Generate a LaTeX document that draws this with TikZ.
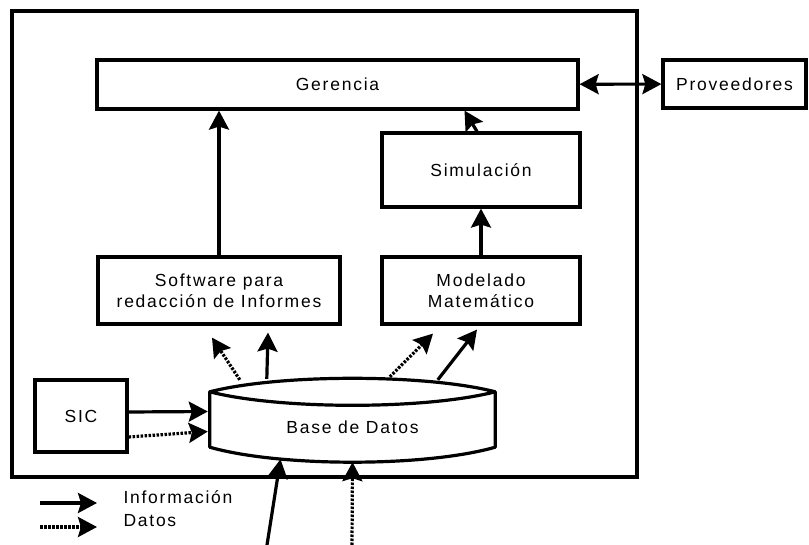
\documentclass[tikz,border=0pt]{standalone}
\usepackage{fontspec}
\setmainfont{Liberation Sans}[LetterSpace=10]
\usetikzlibrary{arrows.meta}

\tikzset{
	bigtip/.tip={Stealth[length=19pt,width=20pt,inset=3pt]},
	box/.style={draw, line width=3.2pt, rectangle, align=center, inner sep=0pt},
	info/.style={line width=3.2pt, -bigtip},
	datos/.style={info, dash pattern=on 2.5pt off 1.5pt},
}

\begin{document}
\begin{tikzpicture}[x=1pt, y=-1pt, font=\fontsize{17.5}{21}\selectfont]
		\useasboundingbox (0,0) rectangle (809,545);
		\draw[line width=3.5pt] (12,11) rectangle (637,477);

		\node[box, minimum width=481pt, minimum height=49pt] (ger) at (337.5,84.5) {Gerencia};
		\node[box, minimum width=143pt, minimum height=48pt] (prov) at (734.5,84) {Proveedores};
		\node[box, minimum width=198pt, minimum height=74pt] (sim) at (481,170) {Simulación};
		\node[box, minimum width=198pt, minimum height=67pt] (mod) at (481,290.5) {Modelado\\Matemático};
		\node[box, minimum width=242pt, minimum height=67pt] (soft) at (219,290.5) {Software para\\redacción de Informes};
		\node[box, minimum width=92pt, minimum height=72pt] (sic) at (81,416) {SIC};

		% base de datos
		\node[minimum width=285pt, minimum height=55pt, inner sep=0pt] (db) at (352.5,419.5) {};
		\draw[line width=3.2pt, line join=round] (db.north west) .. controls +(70,-18) and +(-70,-18) .. (db.north east)
			.. controls +(-70,18) and +(70,18) .. (db.north west) -- (db.south west)
			.. controls +(70,20) and +(-70,20) .. (db.south east) -- (db.north east);
		\node[yshift=-8pt] (dbtext) at (db.center) {Base de Datos};

		\coordinate (gerA) at ([shift={(127,0)}]ger.south);
		\coordinate (simA) at ([shift={(-4,0)}]sim.north);
		\coordinate (dbA) at ([shift={(30,-12)}]db.north west);
		\coordinate (dbB) at ([shift={(57,-13)}]db.north west);
		\coordinate (dbC) at ([shift={(180,-15)}]db.north west);
		\coordinate (dbD) at ([shift={(228,-12)}]db.north west);
		\coordinate (softA) at ([shift={(-7,12)}]soft.south);
		\coordinate (softB) at ([shift={(49,7)}]soft.south);
		\coordinate (modA) at ([shift={(-48,8)}]mod.south);
		\coordinate (modB) at ([shift={(-4,4)}]mod.south);
		\coordinate (sicA) at ([shift={(0,-4)}]sic.east);
		\coordinate (sicB) at ([shift={(0,21)}]sic.east);
		\coordinate (dbE) at ([shift={(-2,-8)}]db.west);
		\coordinate (dbF) at ([shift={(-2,12)}]db.west);
		\coordinate (dbG) at ([shift={(-72,12)}]db.south);
		\coordinate (dbH) at ([shift={(0,15)}]db.south);
		\coordinate (srcA) at (267,545);
		\coordinate (srcB) at (352,545);

		% leyenda
		\coordinate (keyA) at (40,503);
		\coordinate (keyB) at (97,503);
		\coordinate (keyC) at (40,527);
		\coordinate (keyD) at (97,527);
		\node[anchor=west] (infotext) at (120,497) {Información};
		\node[anchor=west] (datotext) at (120,521) {Datos};

		\draw[info] (soft.north) -- (soft.north |- ger.south);
		\draw[info, bigtip-bigtip] (ger) -- (prov);
		\foreach \s/\t in {mod/sim, simA/gerA, dbB/softB, dbD/modB, sicA/dbE, srcA/dbG, keyA/keyB} {
			\draw[info] (\s) -- (\t);
		}
		\foreach \s/\t in {dbA/softA, dbC/modA, sicB/dbF, srcB/dbH, keyC/keyD} {
			\draw[datos] (\s) -- (\t);
		}
	\end{tikzpicture}
\end{document}
